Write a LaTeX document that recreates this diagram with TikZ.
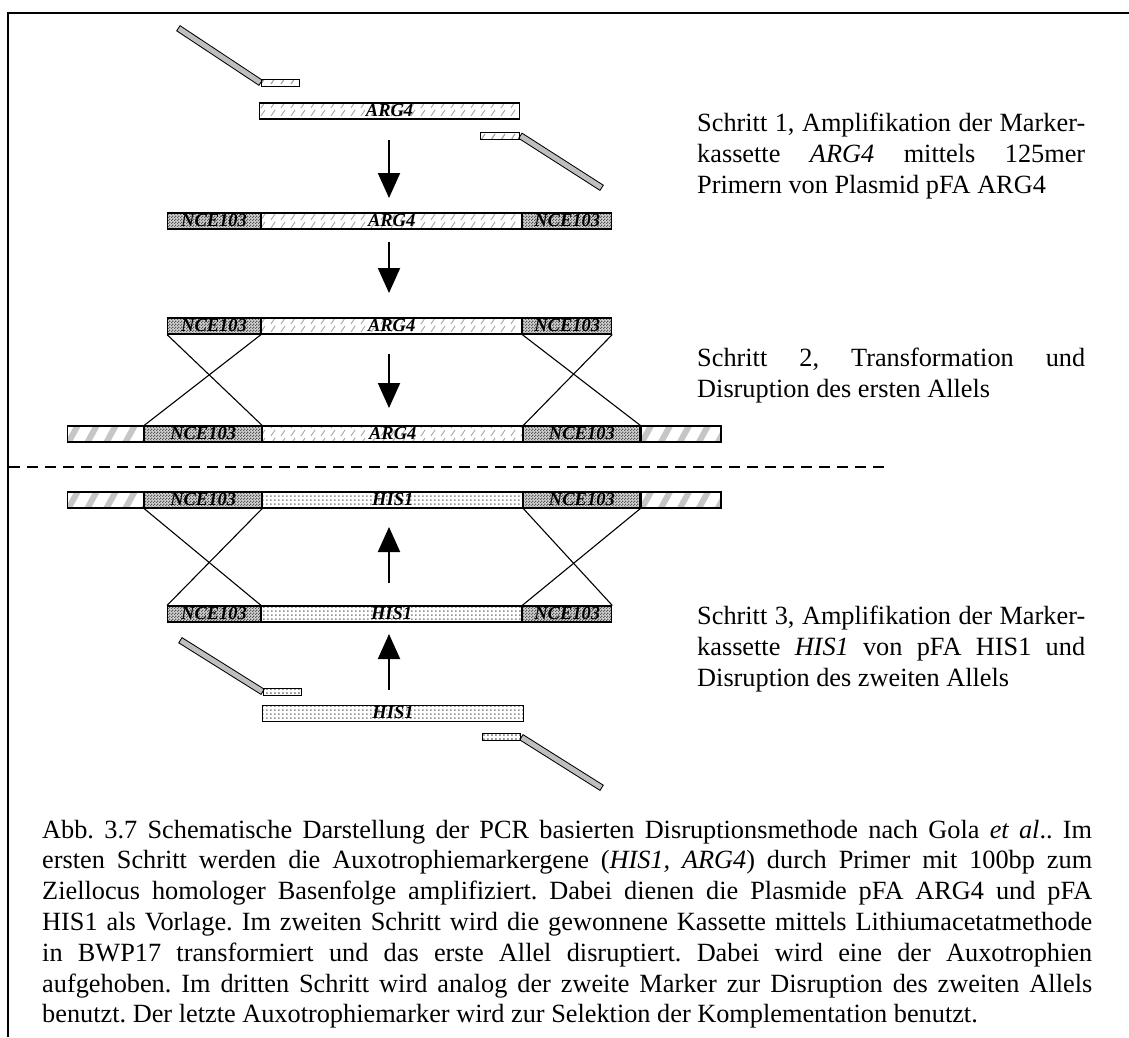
\documentclass[tikz,border=0pt]{standalone}
\usepackage{fontspec}
\setmainfont{Liberation Serif}
\usetikzlibrary{arrows.meta,patterns}
\frenchspacing

\pgfdeclarepatternformonly{argpat}{\pgfqpoint{-1pt}{-1pt}}{\pgfqpoint{11pt}{9pt}}{\pgfqpoint{10pt}{8pt}}{%
  \pgfsetlinewidth{0.9pt}%
  \pgfpathmoveto{\pgfqpoint{1pt}{1pt}}%
  \pgfpathlineto{\pgfqpoint{5pt}{7pt}}%
  \pgfusepath{stroke}}
\pgfdeclarepatternformonly{ncepat}{\pgfqpoint{0pt}{0pt}}{\pgfqpoint{3pt}{3pt}}{\pgfqpoint{3pt}{3pt}}{%
  \pgfpathrectangle{\pgfqpoint{0pt}{0pt}}{\pgfqpoint{1.5pt}{1.5pt}}%
  \pgfpathrectangle{\pgfqpoint{1.5pt}{1.5pt}}{\pgfqpoint{1.5pt}{1.5pt}}%
  \pgfusepath{fill}}
\pgfdeclarepatternformonly{hispat}{\pgfqpoint{0pt}{0pt}}{\pgfqpoint{3.5pt}{3.5pt}}{\pgfqpoint{3.5pt}{3.5pt}}{%
  \pgfpathrectangle{\pgfqpoint{0pt}{0pt}}{\pgfqpoint{1.8pt}{1.8pt}}%
  \pgfusepath{fill}}

\tikzset{
  seg/.style={draw, line width=1.1pt, inner sep=0pt, minimum height=16pt, anchor=west,
    text height=10pt, text depth=0pt, font=\fontsize{18.5}{18.5}\selectfont\bfseries\itshape},
  argseg/.style={seg, pattern=argpat, pattern color=gray!70},
  nceseg/.style={seg, preaction={fill=gray!35}, pattern=ncepat, pattern color=black!65},
  hisseg/.style={seg, pattern=hispat, pattern color=gray!85},
  flank/.style={seg, path picture={
      \foreach \k in {-1,...,5}{
        \draw[gray!45, line width=6pt]
          ([xshift=\k*19pt, yshift=-2pt]path picture bounding box.south west) -- ++(11,-20);}}},
  argbox/.style={draw, line width=1pt, inner sep=0pt, minimum height=7pt, anchor=west,
    pattern=argpat, pattern color=gray!70},
  hisbox/.style={draw, line width=1pt, inner sep=0pt, minimum height=7pt, anchor=west,
    pattern=hispat, pattern color=gray!85},
  primout/.style={line width=7pt, black},
  primin/.style={line width=5pt, gray!50, shorten <=1pt, shorten >=1pt},
  arr/.style={line width=2pt, -{Triangle[length=25pt,width=22pt]}},
  cross/.style={line width=1.1pt},
  txt/.style={anchor=base west, inner sep=0pt, font=\fontsize{26.3}{31}\selectfont},
  captxt/.style={anchor=base west, inner sep=0pt, font=\fontsize{26.3}{30.8}\selectfont}
}

\begin{document}
\begin{tikzpicture}[x=1pt,y=-1pt]
\useasboundingbox (0,0) rectangle (1129,1037);

% frame
\draw[line width=2pt] (8,1037) -- (8,13) -- (1129,13);

% ---------- step 1 ----------
\coordinate (p1a) at (178,28);
\node[argbox, minimum width=38pt] (p1box) at (261,83) {};
\draw[primout] (p1a) -- (p1box.west);
\draw[primin] (p1a) -- (p1box.west);
\node[argbox, minimum width=38pt] (p1box) at (261,83) {};

\node[argseg, minimum width=260pt] (b1) at (259,111) {ARG4};

\coordinate (p2a) at (602,188);
\node[argbox, minimum width=39pt] (p2box) at (480,135.5) {};
\draw[primout] (p2box.east) -- (p2a);
\draw[primin] (p2box.east) -- (p2a);
\node[argbox, minimum width=39pt] (p2box) at (480,135.5) {};

\coordinate (a1s) at (389,140);
\coordinate (a1e) at (389,198);
\draw[arr] (a1s) -- (a1e);

% bar 2
\node[nceseg, minimum width=93pt] (b2l) at (167,221) {NCE103};
\node[argseg, minimum width=260pt] (b2m) at (b2l.east) {ARG4};
\node[nceseg, minimum width=89pt] (b2r) at (b2m.east) {NCE103};

\coordinate (a2s) at (389,242);
\coordinate (a2e) at (389,293);
\draw[arr] (a2s) -- (a2e);

% bar 3
\node[nceseg, minimum width=93pt] (b3l) at (167,326) {NCE103};
\node[argseg, minimum width=260pt] (b3m) at (b3l.east) {ARG4};
\node[nceseg, minimum width=89pt] (b3r) at (b3m.east) {NCE103};

\coordinate (a3s) at (389,354);
\coordinate (a3e) at (389,408);
\draw[arr] (a3s) -- (a3e);

% chromosome 1
\node[flank, minimum width=76pt] (c1a) at (67,434) {};
\node[nceseg, minimum width=117pt] (c1nl) at (c1a.east) {NCE103};
\node[argseg, minimum width=260pt] (c1m) at (c1nl.east) {ARG4};
\node[nceseg, minimum width=116pt] (c1nr) at (c1m.east) {NCE103};
\node[flank, minimum width=80pt] (c1b) at (c1nr.east) {};

\draw[cross] (b3l.south west) -- (c1nl.north east);
\draw[cross] (b3l.south east) -- (c1nl.north west);
\draw[cross] (b3r.south west) -- (c1nr.north east);
\draw[cross] (b3r.south east) -- (c1nr.north west);

% dashed separator
\draw[line width=1.5pt, dash pattern=on 11pt off 7pt] (9,467) -- (888,467);

% chromosome 2
\node[flank, minimum width=76pt] (c2a) at (67,500) {};
\node[nceseg, minimum width=117pt] (c2nl) at (c2a.east) {NCE103};
\node[hisseg, minimum width=260pt] (c2m) at (c2nl.east) {HIS1};
\node[nceseg, minimum width=116pt] (c2nr) at (c2m.east) {NCE103};
\node[flank, minimum width=80pt] (c2b) at (c2nr.east) {};

\coordinate (a4s) at (389,583);
\coordinate (a4e) at (389,527);
\draw[arr] (a4s) -- (a4e);

% bar 6
\node[nceseg, minimum width=93pt] (b6l) at (167,614) {NCE103};
\node[hisseg, minimum width=260pt] (b6m) at (b6l.east) {HIS1};
\node[nceseg, minimum width=89pt] (b6r) at (b6m.east) {NCE103};

\draw[cross] (c2nl.south west) -- (b6l.north east);
\draw[cross] (c2nl.south east) -- (b6l.north west);
\draw[cross] (c2nr.south west) -- (b6r.north east);
\draw[cross] (c2nr.south east) -- (b6r.north west);

\coordinate (a5s) at (389,690);
\coordinate (a5e) at (389,634);
\draw[arr] (a5s) -- (a5e);

% step 3 primers and HIS1 cassette
\coordinate (p3a) at (180,640);
\node[hisbox, minimum width=38pt] (p3box) at (263,692) {};
\draw[primout] (p3a) -- (p3box.west);
\draw[primin] (p3a) -- (p3box.west);
\node[hisbox, minimum width=38pt] (p3box) at (263,692) {};

\node[hisseg, minimum width=261pt] (b7) at (262,713.5) {HIS1};

\coordinate (p4a) at (602,788);
\node[hisbox, minimum width=38pt] (p4box) at (482,737) {};
\draw[primout] (p4box.east) -- (p4a);
\draw[primin] (p4box.east) -- (p4a);
\node[hisbox, minimum width=38pt] (p4box) at (482,737) {};

% step texts
\node[txt] (t1) at (697,131) {\parbox[t]{388pt}{%
  \makebox[388pt][s]{Schritt 1, Amplifikation der Marker-}\\
  \makebox[388pt][s]{kassette \textit{ARG4} mittels 125mer}\\
  Primern von Plasmid pFA ARG4}};
\node[txt] (t2) at (697,366) {\parbox[t]{388pt}{%
  \makebox[388pt][s]{Schritt 2, Transformation und}\\
  Disruption des ersten Allels}};
\node[txt] (t3) at (697,624) {\parbox[t]{388pt}{%
  \makebox[388pt][s]{Schritt 3, Amplifikation der Marker-}\\
  \makebox[388pt][s]{kassette \textit{HIS1} von pFA HIS1 und}\\
  Disruption des zweiten Allels}};

% caption
\node[captxt] (cap) at (42,838) {\parbox[t]{1050pt}{%
  \makebox[1050pt][s]{Abb. 3.7 Schematische Darstellung der PCR basierten Disruptionsmethode nach Gola \textit{et al}.. Im}\\
  \makebox[1050pt][s]{ersten Schritt werden die Auxotrophiemarkergene (\textit{HIS1, ARG4}) durch Primer mit 100bp zum}\\
  \makebox[1050pt][s]{Ziellocus homologer Basenfolge amplifiziert. Dabei dienen die Plasmide pFA ARG4 und pFA}\\
  \makebox[1050pt][s]{HIS1 als Vorlage. Im zweiten Schritt wird die gewonnene Kassette mittels Lithiumacetatmethode}\\
  \makebox[1050pt][s]{in BWP17 transformiert und das erste Allel disruptiert. Dabei wird eine der Auxotrophien}\\
  \makebox[1050pt][s]{aufgehoben. Im dritten Schritt wird analog der zweite Marker zur Disruption des zweiten Allels}\\
  benutzt. Der letzte Auxotrophiemarker wird zur Selektion der Komplementation benutzt.}};
\end{tikzpicture}
\end{document}
